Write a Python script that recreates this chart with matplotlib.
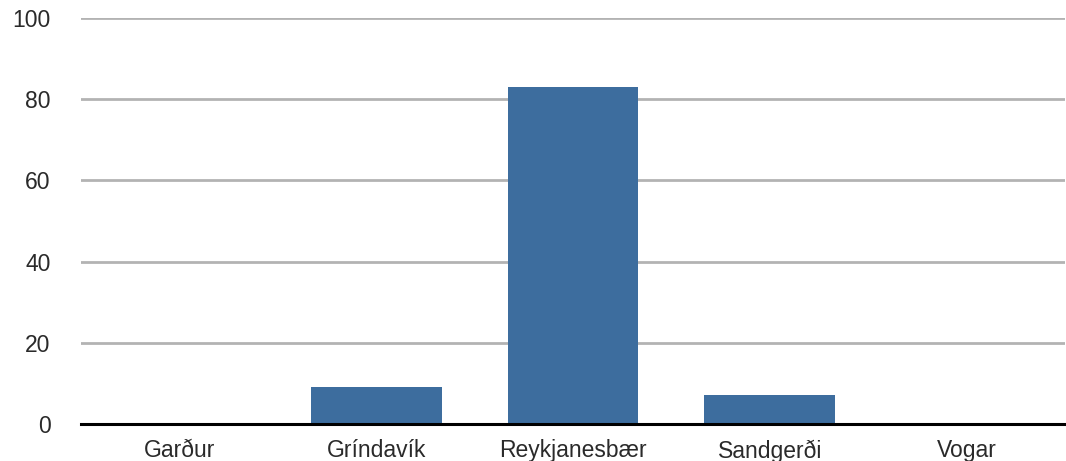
import matplotlib
matplotlib.use("Agg")
import matplotlib.pyplot as plt

categories = ["Garður", "Gríndavík", "Reykjanesbær", "Sandgerði", "Vogar"]
values = [0, 9.1, 83.0, 7.1, 0]
yticks = [0, 20, 40, 60, 80, 100]

plt.rcParams['font.family'] = ['Liberation Sans', 'DejaVu Sans']

W, H = 1066, 461
fig = plt.figure(figsize=(W/100, H/100), dpi=100)
ax = fig.add_axes([81/W, 37/H, (1065-81)/W, (424-18)/H])

x = list(range(len(categories)))
ax.bar(x, values, width=0.665, color="#3d6d9e", zorder=3)
ax.set_xlim(-0.5, len(categories)-0.5)
ax.set_ylim(0, 100)
ax.set_yticks(yticks)
ax.set_yticklabels([str(t) for t in yticks])
ax.set_xticks(x)
ax.set_xticklabels(categories)

for t in yticks[1:]:
    ax.axhline(t, color="#b3b3b3", lw=2, zorder=1)
ax.axhline(0, color="#000000", lw=2.2, zorder=4, clip_on=False)

for s in ax.spines.values():
    s.set_visible(False)
ax.tick_params(axis='both', length=0, labelsize=16.5, colors="#2a2a2a")
ax.tick_params(axis='y', pad=22)
ax.tick_params(axis='x', pad=11)

fig.savefig("out.png", dpi=100)
